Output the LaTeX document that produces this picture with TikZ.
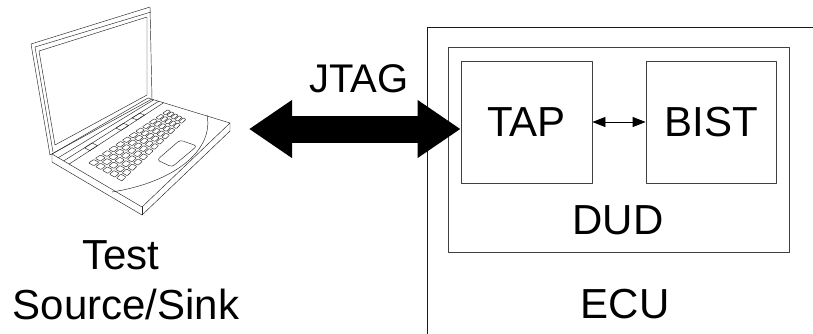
\documentclass[tikz,border=0pt]{standalone}
\usepackage{fontspec}
\setmainfont{Liberation Sans}
\usetikzlibrary{arrows.meta,calc}
\tikzset{
  blk/.style={draw=black!75, line width=0.8pt, inner sep=0pt},
  frame/.style={draw=black!90, line width=1pt},
  big/.style={font=\fontsize{42}{50}\selectfont},
  thinline/.style={line width=0.45pt, black!85},
}
% point of the keyboard grid, bilinear between its four corners
\newcommand\kb[2]{($($(kL)!#1!(kT)$)!#2!($(kB)!#1!(kR)$)$)}
\begin{document}
\begin{tikzpicture}[x=1pt, y=-1pt, line join=round, line cap=round]
\clip (0,0) rectangle (813,333);
\fill[white] (0,0) rectangle (813,333);

% Lid
\draw[thinline] (31,44) -- (150,7) -- (152,99) -- (50,155) -- cycle;
\draw[thinline] (35,47) -- (151,12);
\draw[thinline] (35,47) -- (53,152);
\draw[thinline] (39,51) -- (147,17) -- (147,95) -- (55,145) -- cycle;

% Base
\coordinate (A) at (52,154);
\coordinate (B) at (148,98);
\coordinate (C) at (230,123);
\coordinate (D) at (142,207);
\draw[thinline] (A) -- (B) -- (C) -- (D) -- cycle;
\draw[thinline] (A) -- ++(0,8) coordinate (A1) -- ($(D)+(0,8)$) coordinate (D1)
  -- ($(C)+(0,8)$) -- (C);
\draw[thinline] (D) -- (D1);
% hinge strip
\draw[thinline] ($(A)!0.07!(D)$) -- ($(B)!0.07!(C)$);
\draw[thinline] ($(A)!0.13!(D)$) -- ($(B)!0.13!(C)$);
\draw[thinline] ($(A)!0.19!(D)$) -- ($(B)!0.19!(C)$);
\foreach \s in {0.22,0.55,0.72} {
  \draw[thinline] ($($(A)!\s!(B)$)!0.13!($(D)!\s!(C)$)$)
    -- ($($(A)!\s+0.08!(B)$)!0.13!($(D)!\s+0.08!(C)$)$)
    -- ($($(A)!\s+0.08!(B)$)!0.19!($(D)!\s+0.08!(C)$)$)
    -- ($($(A)!\s!(B)$)!0.19!($(D)!\s!(C)$)$) -- cycle;
}
% palm rest curve
\draw[thinline] (207,115) .. controls (214,150) and (175,182) .. (112,192);

% Keyboard
\coordinate (kL) at (87,163);
\coordinate (kT) at (168,109);
\coordinate (kR) at (187,119);
\coordinate (kB) at (122,182);
\foreach \r in {0,...,4} {
  \foreach \c in {0,...,11} {
    \pgfmathsetmacro{\sa}{(\c+0.12)/12}
    \pgfmathsetmacro{\sb}{(\c+0.88)/12}
    \pgfmathsetmacro{\ta}{(\r+0.12)/5}
    \pgfmathsetmacro{\tb}{(\r+0.88)/5}
    \draw[thinline, rounded corners=0.6pt] \kb{\sa}{\ta} -- \kb{\sb}{\ta}
      -- \kb{\sb}{\tb} -- \kb{\sa}{\tb} -- cycle;
  }
}
% touchpad
\draw[thinline, rounded corners=3pt] (157,160) -- (180,140) -- (197,146) -- (172,167) -- cycle;

\coordinate (pc) at (249,129);
\node[big, anchor=base] (test) at (121,269) {Test};
\node[big, anchor=base] (sink) at (126,319) {Source/Sink};

% Boxes
\node[frame, anchor=north west, minimum width=500pt, minimum height=400pt] (ecu) at (427,27) {};
\node[blk, minimum width=341pt, minimum height=205pt] (dud) at (618.5,149.5) {};
\node[blk, big, minimum width=131pt, minimum height=122pt] (tap) at (526.5,122) {TAP};
\node[blk, big, minimum width=130pt, minimum height=122pt] (bist) at (711,122) {BIST};
\node[big] (dudlbl) at (618,220) {DUD};
\node[big, anchor=base] (eculbl) at (625,318) {ECU};

% Links
\draw[line width=27pt, {Triangle[length=43pt,width=55pt]}-{Triangle[length=43pt,width=55pt]}]
  (pc) -- (pc -| tap.west);
\node[font=\fontsize{40}{48}\selectfont] (jtag) at (359,79) {JTAG};
\draw[line width=0.8pt, {Triangle[length=13pt,width=10pt]}-{Triangle[length=13pt,width=10pt]}]
  (tap) -- (bist);
\end{tikzpicture}
\end{document}
